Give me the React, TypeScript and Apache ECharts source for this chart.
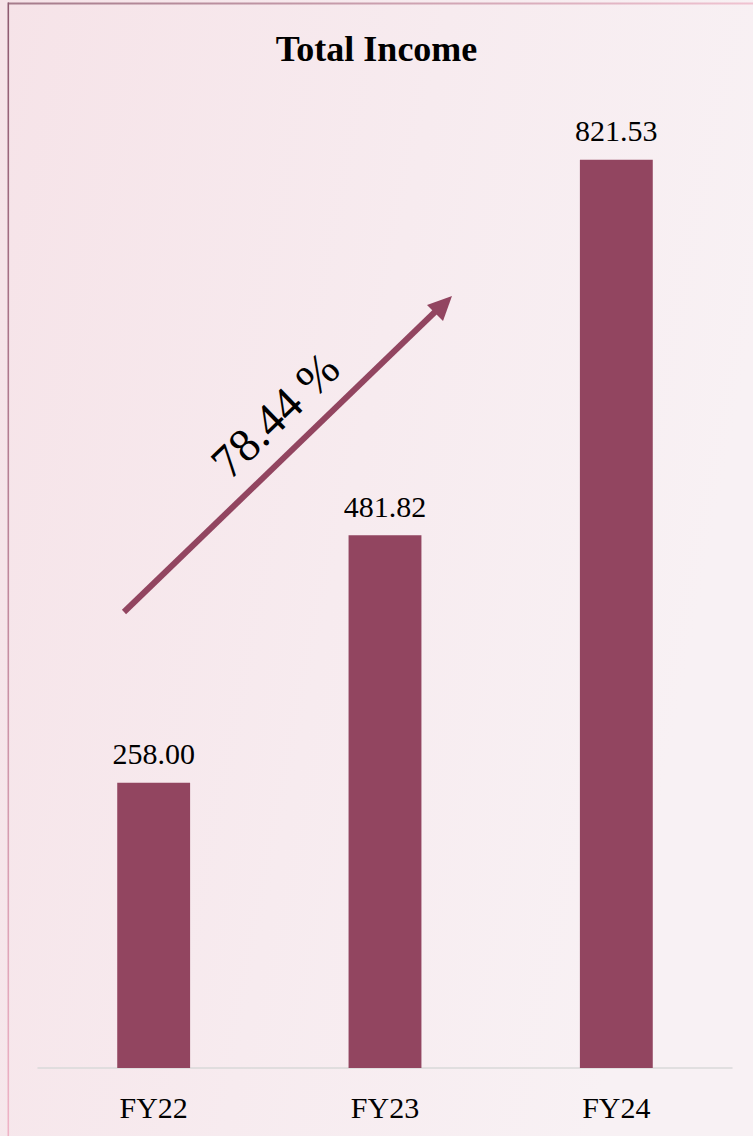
import React, { useEffect, useRef } from "react";
import * as echarts from "echarts";

const categories = ["FY22", "FY23", "FY24"];
const incomeValues = [258.0, 481.82, 821.53];
const titleText = "Total Income";
const growthLabel = "78.44 %";

const BAR = "#924560";
const SERIF = "'Liberation Serif', 'Times New Roman', serif";

export default function App() {
  const ref = useRef<HTMLDivElement>(null);
  useEffect(() => {
    document.body.style.margin = "0";
    const chart = echarts.init(ref.current!, null, { renderer: "svg" });
    const ang = Math.atan2(612 - 296, 452 - 124);
    chart.setOption({
      animation: false,
      backgroundColor: {
        type: "linear", x: 0, y: 0, x2: 1, y2: 0.3,
        colorStops: [
          { offset: 0, color: "#f6e3e8" },
          { offset: 0.55, color: "#f7ebef" },
          { offset: 1, color: "#f8f1f4" },
        ],
      },
      title: {
        text: titleText,
        left: "center",
        top: 26,
        textStyle: { fontFamily: SERIF, fontWeight: "bold", fontSize: 36, color: "#000" },
      },
      grid: { left: 38, right: 21, bottom: 68, top: 73, containLabel: false },
      xAxis: {
        type: "category",
        data: categories,
        axisLine: { lineStyle: { color: "#d9d9d9", width: 1.5 } },
        axisTick: { show: false },
        axisLabel: { fontFamily: SERIF, fontSize: 30, color: "#000", margin: 24 },
      },
      yAxis: { type: "value", min: 0, max: 900, show: false, splitLine: { show: false } },
      series: [
        {
          type: "bar",
          data: incomeValues,
          barWidth: "31.5%",
          itemStyle: { color: BAR },
          label: {
            show: true,
            position: "top",
            distance: 14,
            formatter: (p: any) => Number(p.value).toFixed(2),
            fontFamily: SERIF,
            fontSize: 30,
            color: "#000",
          },
        },
      ],
      graphic: [
        {
          type: "rect",
          shape: { x: 8, y: 2.5, width: 745, height: 2 },
          style: {
            fill: {
              type: "linear", x: 0, y: 0, x2: 1, y2: 0,
              colorStops: [
                { offset: 0, color: "#a57b8b" },
                { offset: 1, color: "#f0c3d1" },
              ],
            },
          },
        },
        {
          type: "rect",
          shape: { x: 7.5, y: 2.5, width: 1.6, height: 1134 },
          style: {
            fill: {
              type: "linear", x: 0, y: 0, x2: 0, y2: 1,
              colorStops: [
                { offset: 0, color: "#8e5a70" },
                { offset: 1, color: "#efb3c6" },
              ],
            },
          },
        },
        {
          type: "line",
          shape: { x1: 124, y1: 612, x2: 438, y2: 309 },
          style: { stroke: BAR, lineWidth: 6 },
        },
        {
          type: "polygon",
          shape: { points: [[452, 296], [443, 321], [427, 305]] },
          style: { fill: BAR },
        },
        {
          type: "text",
          x: 275,
          y: 415,
          rotation: ang,
          style: {
            text: growthLabel,
            fontFamily: SERIF,
            fontSize: 47,
            fill: "#000",
            align: "center",
            verticalAlign: "middle",
          },
        },
      ],
    });
    return () => chart.dispose();
  }, []);
  return <div ref={ref} style={{ width: 753, height: 1136 }} />;
}
